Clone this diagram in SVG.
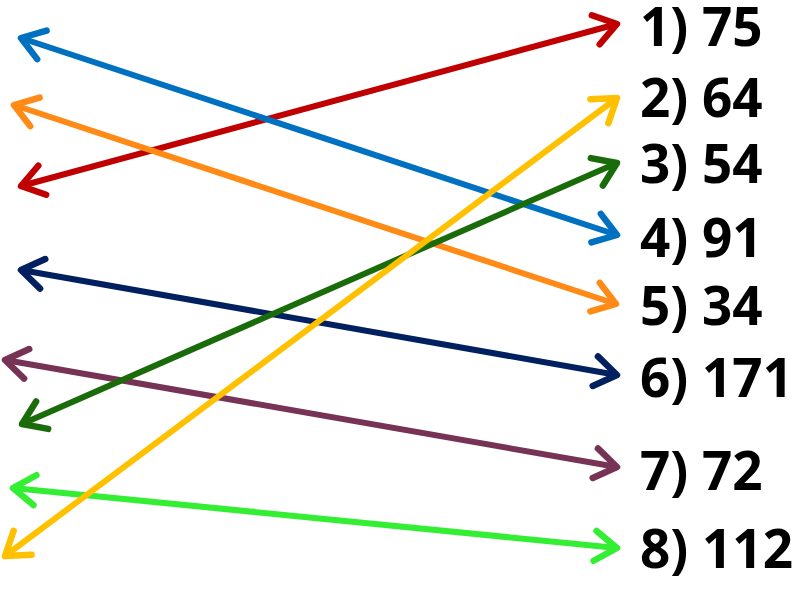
<svg xmlns="http://www.w3.org/2000/svg" width="800" height="596" viewBox="0 0 800 596">
<style>
.lbl{font-family:"Open Sans",Lato,"Liberation Sans",sans-serif;font-weight:bold;font-size:53px;fill:#000}
.c{fill:none;stroke-width:6}
.h{fill:none;stroke-width:6.5;stroke-linecap:round;stroke-linejoin:round}
</style>
<defs>
<marker id="mRed" markerUnits="userSpaceOnUse" viewBox="-30 -20 40 40" markerWidth="40" markerHeight="40" refX="0" refY="0" orient="auto-start-reverse"><path class="h" stroke="#C00000" d="M-22,-15 L0,0 L-22,15"/></marker>
<marker id="mBlue" markerUnits="userSpaceOnUse" viewBox="-30 -20 40 40" markerWidth="40" markerHeight="40" refX="0" refY="0" orient="auto-start-reverse"><path class="h" stroke="#0070C0" d="M-22,-15 L0,0 L-22,15"/></marker>
<marker id="mOrange" markerUnits="userSpaceOnUse" viewBox="-30 -20 40 40" markerWidth="40" markerHeight="40" refX="0" refY="0" orient="auto-start-reverse"><path class="h" stroke="#FF8A16" d="M-22,-15 L0,0 L-22,15"/></marker>
<marker id="mNavy" markerUnits="userSpaceOnUse" viewBox="-30 -20 40 40" markerWidth="40" markerHeight="40" refX="0" refY="0" orient="auto-start-reverse"><path class="h" stroke="#002060" d="M-22,-15 L0,0 L-22,15"/></marker>
<marker id="mMaroon" markerUnits="userSpaceOnUse" viewBox="-30 -20 40 40" markerWidth="40" markerHeight="40" refX="0" refY="0" orient="auto-start-reverse"><path class="h" stroke="#773355" d="M-22,-15 L0,0 L-22,15"/></marker>
<marker id="mDkGreen" markerUnits="userSpaceOnUse" viewBox="-30 -20 40 40" markerWidth="40" markerHeight="40" refX="0" refY="0" orient="auto-start-reverse"><path class="h" stroke="#1A6B0A" d="M-22,-15 L0,0 L-22,15"/></marker>
<marker id="mLtGreen" markerUnits="userSpaceOnUse" viewBox="-30 -20 40 40" markerWidth="40" markerHeight="40" refX="0" refY="0" orient="auto-start-reverse"><path class="h" stroke="#33EE33" d="M-22,-15 L0,0 L-22,15"/></marker>
<marker id="mYellow" markerUnits="userSpaceOnUse" viewBox="-30 -20 40 40" markerWidth="40" markerHeight="40" refX="0" refY="0" orient="auto-start-reverse"><path class="h" stroke="#FFC000" d="M-22,-15 L0,0 L-22,15"/></marker>
</defs>
<rect width="800" height="596" fill="#fff"/>
<g id="connectors">
<line class="c" stroke="#C00000" x1="21" y1="186" x2="617" y2="24" marker-start="url(#mRed)" marker-end="url(#mRed)"/>
<line class="c" stroke="#0070C0" x1="21" y1="38" x2="617" y2="235" marker-start="url(#mBlue)" marker-end="url(#mBlue)"/>
<line class="c" stroke="#FF8A16" x1="14" y1="105" x2="616" y2="304" marker-start="url(#mOrange)" marker-end="url(#mOrange)"/>
<line class="c" stroke="#002060" x1="21" y1="270" x2="617" y2="375" marker-start="url(#mNavy)" marker-end="url(#mNavy)"/>
<line class="c" stroke="#773355" x1="5" y1="360" x2="617" y2="467" marker-start="url(#mMaroon)" marker-end="url(#mMaroon)"/>
<line class="c" stroke="#1A6B0A" x1="22" y1="424" x2="617" y2="163" marker-start="url(#mDkGreen)" marker-end="url(#mDkGreen)"/>
<line class="c" stroke="#33EE33" x1="13" y1="488" x2="617" y2="548" marker-start="url(#mLtGreen)" marker-end="url(#mLtGreen)"/>
<line class="c" stroke="#FFC000" x1="5" y1="556" x2="617" y2="98" marker-start="url(#mYellow)" marker-end="url(#mYellow)"/>
</g>
<g id="n1"><text class="lbl" x="640" y="46">1) 75</text></g>
<g id="n2"><text class="lbl" x="640" y="117">2) 64</text></g>
<g id="n3"><text class="lbl" x="640" y="183">3) 54</text></g>
<g id="n4"><text class="lbl" x="640" y="257">4) 91</text></g>
<g id="n5"><text class="lbl" x="640" y="325">5) 34</text></g>
<g id="n6"><text class="lbl" x="640" y="397">6) 171</text></g>
<g id="n7"><text class="lbl" x="640" y="490">7) 72</text></g>
<g id="n8"><text class="lbl" x="640" y="568">8) 112</text></g>
</svg>
